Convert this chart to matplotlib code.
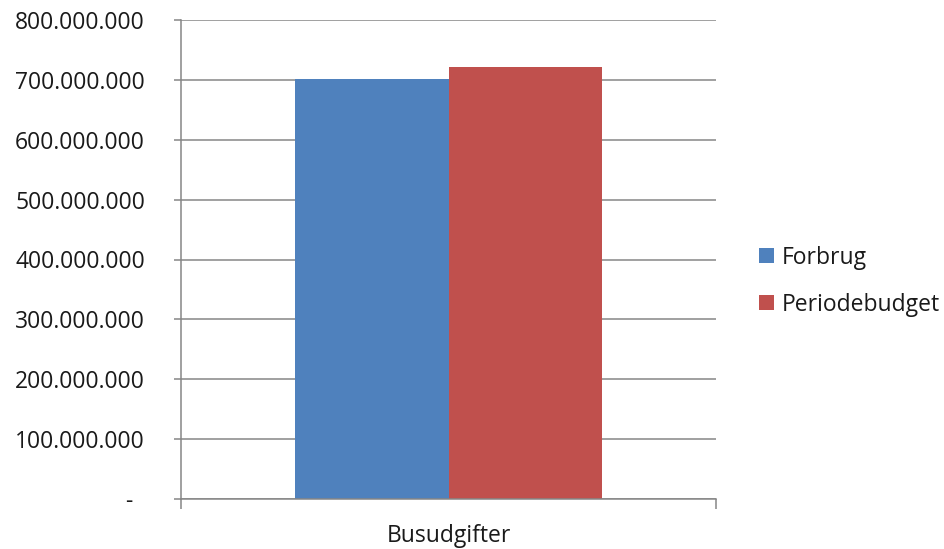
import matplotlib.pyplot as plt
from matplotlib.ticker import FuncFormatter, FixedLocator
from matplotlib.patches import Patch

categories = ['Busudgifter']
series_names = ['Forbrug', 'Periodebudget']
forbrug = [701_000_000]
periodebudget = [721_000_000]
colors = ['#4F81BD', '#C0504D']

plt.rcParams['font.family'] = ['Open Sans', 'DejaVu Sans']
FS = 16.5
GRID = '#868686'


def fmt(v, pos):
    if abs(v) < 1:
        return '-  '
    return f'{int(round(v)):,}'.replace(',', '.')


fig = plt.figure(figsize=(9.44, 5.49), dpi=100)
ax = fig.add_axes([181 / 944, 50 / 549, 535 / 944, 479 / 549])

w = 0.572
ax.bar([-w / 2], forbrug, width=w, color=colors[0], zorder=3)
ax.bar([w / 2], periodebudget, width=w, color=colors[1], zorder=3)

ax.set_xlim(-1, 1)
ax.set_ylim(0, 800_000_000)
ax.set_yticks(range(0, 800_000_001, 100_000_000))
ax.yaxis.set_major_formatter(FuncFormatter(fmt))
ax.yaxis.grid(True, color=GRID, linewidth=1.1, zorder=0)
ax.tick_params(axis='y', length=5, width=1.1, color=GRID, labelsize=FS, pad=21,
               labelcolor='#1a1a1a')

ax.set_xticks([0])
ax.set_xticklabels(categories)
ax.tick_params(axis='x', which='major', length=0, labelsize=FS, pad=18,
               labelcolor='#1a1a1a')
ax.xaxis.set_minor_locator(FixedLocator([-1, 1]))
ax.tick_params(axis='x', which='minor', length=7, width=1.1, color=GRID)

for s in ['top', 'right']:
    ax.spines[s].set_visible(False)
for s in ['left', 'bottom']:
    ax.spines[s].set_color(GRID)
    ax.spines[s].set_linewidth(1.1)
    ax.spines[s].set_zorder(4)

handles = [Patch(facecolor=c, edgecolor='none') for c in colors]
fig.legend(handles, series_names, loc='center left', bbox_to_anchor=(738 / 944, 0.488),
           frameon=False, fontsize=FS, handlelength=0.65, handleheight=0.65,
           handletextpad=0.35, labelspacing=1.0, labelcolor='#1a1a1a')

fig.savefig('out.png', dpi=100)
